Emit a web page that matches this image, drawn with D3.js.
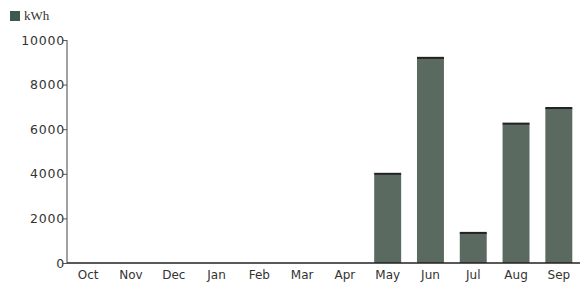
<!DOCTYPE html>
<html>
<head>
<style>
  body { margin:0; background:#fff; }
  text { font-family: "DejaVu Sans", Verdana, sans-serif; fill:#333; }
</style>
</head>
<body>
<div id="chart"></div>
<script src="https://d3js.org/d3.v7.min.js"></script>
<script>
var months = ["Oct","Nov","Dec","Jan","Feb","Mar","Apr","May","Jun","Jul","Aug","Sep"];
var kwh = [0,0,0,0,0,0,0,4000,9200,1350,6250,6950];
var yTicks = [0,2000,4000,6000,8000,10000];

var W = 584, H = 290;
var m = {left:67, right:4, top:40, bottom:27};

var svg = d3.select("#chart").append("svg")
  .attr("width", W).attr("height", H);

var x = d3.scaleBand().domain(months)
  .range([m.left, W - m.right]).paddingInner(0.37).paddingOuter(0.18);
var y = d3.scaleLinear().domain([0,10000]).range([H - m.bottom, m.top]);

var rows = months.map(function(mo, i){ return {month: mo, value: kwh[i]}; });

// bars
var bars = svg.selectAll("g.bar").data(rows).enter().append("g").attr("class", "bar");
bars.append("rect")
  .attr("x", function(d){ return x(d.month); })
  .attr("y", function(d){ return y(d.value); })
  .attr("width", x.bandwidth())
  .attr("height", function(d){ return y(0) - y(d.value); })
  .style("fill", "#5a6a60");
bars.filter(function(d){ return d.value > 0; }).append("rect")
  .attr("x", function(d){ return x(d.month); })
  .attr("y", function(d){ return y(d.value) - 1; })
  .attr("width", x.bandwidth())
  .attr("height", 2)
  .style("fill", "#222");

// y axis
var ya = svg.append("g")
  .attr("transform", "translate(" + m.left + ",0)")
  .call(d3.axisLeft(y).tickValues(yTicks).tickSize(4).tickPadding(1).tickFormat(d3.format("d")));
ya.select(".domain").attr("stroke", "#444").attr("d", "M0," + y(0) + "V" + (y(10000)));
ya.selectAll("text").style("font-size", "12.5px").style("letter-spacing", "0.8px").attr("dx", "3");
ya.selectAll("line").attr("stroke", "#555");

// x axis
var xa = svg.append("g")
  .attr("transform", "translate(0," + y(0) + ")")
  .call(d3.axisBottom(x).tickSize(0).tickPadding(7));
xa.select(".domain").attr("stroke", "#222").attr("stroke-width", 1.5)
  .attr("d", "M" + m.left + ",0H" + (W - m.right));
xa.selectAll("text").style("font-size", "12px");

// legend
svg.append("rect").attr("x", 10).attr("y", 11).attr("width", 10).attr("height", 10)
  .style("fill", "#3f5a4b");
svg.append("text").attr("x", 24).attr("y", 20).text("kWh")
  .style("font-family", "'Liberation Serif', serif").style("font-size", "13px");
</script>
</body>
</html>
